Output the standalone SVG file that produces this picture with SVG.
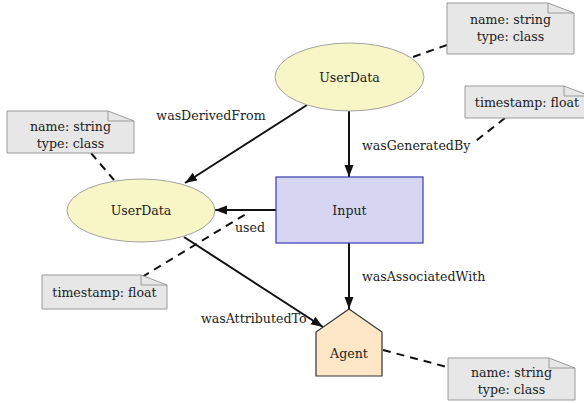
<svg xmlns="http://www.w3.org/2000/svg" width="584" height="403" viewBox="0 0 584 403">
  <style>
    text { font-family: "DejaVu Serif", "Liberation Serif", serif; font-size: 12.6px; fill: #222; }
    .mid { text-anchor: middle; }
    .entity { fill: #f8f5c6; stroke: #a3a3a3; stroke-width: 1; }
    .activity { fill: #d6d6f3; stroke: #3b3bb0; stroke-width: 1.2; }
    .agent { fill: #fde7c6; stroke: #333; stroke-width: 1.2; }
    .note { fill: #e7e7e7; stroke: #9a9a9a; stroke-width: 1; }
    .fold { fill: none; stroke: #9a9a9a; stroke-width: 1; }
    .edge { fill: none; stroke: #111; stroke-width: 2; marker-end: url(#arrow); }
    .link { fill: none; stroke: #111; stroke-width: 2; stroke-dasharray: 8 6; }
  </style>
  <defs>
    <marker id="arrow" markerUnits="userSpaceOnUse" markerWidth="13" markerHeight="10" refX="12" refY="4.5" orient="auto">
      <path d="M0,0 L12,4.5 L0,9 Z" fill="#111"/>
    </marker>
  </defs>

  <!-- annotation links (dashed) -->
  <g id="annotation-links">
    <line class="link" x1="447" y1="45" x2="410" y2="58"/>
    <line class="link" x1="505" y1="118" x2="472" y2="144"/>
    <line class="link" x1="91" y1="153" x2="114" y2="180"/>
    <line class="link" x1="142" y1="277" x2="246" y2="214"/>
    <line class="link" x1="383" y1="350" x2="447" y2="367"/>
  </g>

  <!-- relations -->
  <g id="connectors">
    <line class="edge" x1="307" y1="105" x2="185" y2="183"/>
    <line class="edge" x1="349" y1="111" x2="349" y2="177"/>
    <line class="edge" x1="276" y1="210" x2="215" y2="210"/>
    <line class="edge" x1="349" y1="243" x2="349" y2="309"/>
    <line class="edge" x1="184" y1="237" x2="323" y2="327"/>
    <text x="211" y="120" class="mid">wasDerivedFrom</text>
    <text x="362" y="150">wasGeneratedBy</text>
    <text x="250" y="232" class="mid">used</text>
    <text x="362" y="281">wasAssociatedWith</text>
    <text x="201" y="323">wasAttributedTo</text>
  </g>

  <g id="userdata-top">
    <ellipse class="entity" cx="349.5" cy="77" rx="74.5" ry="34"/>
    <text x="349.5" y="81.5" class="mid">UserData</text>
  </g>

  <g id="userdata-left">
    <ellipse class="entity" cx="141" cy="210.5" rx="74" ry="31.5"/>
    <text x="141" y="215" class="mid">UserData</text>
  </g>

  <g id="input">
    <rect class="activity" x="276" y="177" width="147" height="66"/>
    <text x="349.5" y="214.5" class="mid">Input</text>
  </g>

  <g id="agent">
    <path class="agent" d="M349,309 L382,332 L382,376 L316,376 L316,332 Z"/>
    <text x="349" y="358" class="mid">Agent</text>
  </g>

  <!-- notes -->
  <g id="note-top-attrs">
    <path class="note" d="M447,3 H548 L574,13 V54 H447 Z"/>
    <path class="fold" d="M548,3 V13 H574"/>
    <text x="510.5" y="24" class="mid">name: string</text>
    <text x="510.5" y="41" class="mid">type: class</text>
  </g>

  <g id="note-generated-time">
    <path class="note" d="M465,86 H564 L590,96 V118 H465 Z"/>
    <path class="fold" d="M564,86 V96 H590"/>
    <text x="527" y="107" class="mid">timestamp: float</text>
  </g>

  <g id="note-left-attrs">
    <path class="note" d="M7,111 H108 L134,121 V153 H7 Z"/>
    <path class="fold" d="M108,111 V121 H134"/>
    <text x="70.5" y="131" class="mid">name: string</text>
    <text x="70.5" y="148" class="mid">type: class</text>
  </g>

  <g id="note-used-time">
    <path class="note" d="M42,275 H141 L167,285 V309 H42 Z"/>
    <path class="fold" d="M141,275 V285 H167"/>
    <text x="104.5" y="297" class="mid">timestamp: float</text>
  </g>

  <g id="note-agent-attrs">
    <path class="note" d="M448,358 H549 L575,368 V400 H448 Z"/>
    <path class="fold" d="M549,358 V368 H575"/>
    <text x="511.5" y="377" class="mid">name: string</text>
    <text x="511.5" y="394" class="mid">type: class</text>
  </g>
</svg>
